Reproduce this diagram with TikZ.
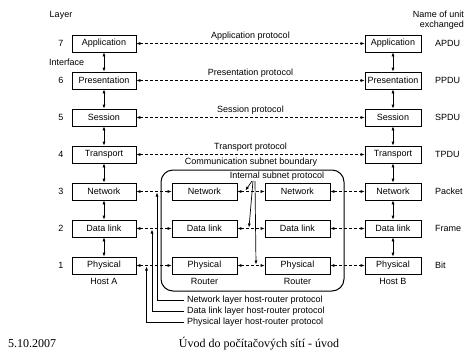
\documentclass[tikz,border=0pt]{standalone}
\usepackage{fontspec}
\setmainfont{Liberation Sans}
\newfontfamily\footfont{Liberation Serif}
\usetikzlibrary{arrows.meta}
\begin{document}
\begin{tikzpicture}[x=1pt,y=-1pt,
  lay/.style={draw, line width=0.7pt, minimum height=17pt, inner sep=0pt, font=\fontsize{9}{10.5}\selectfont},
  hb/.style={lay, minimum width=64pt},
  rb/.style={lay, minimum width=65pt},
  bb/.style={lay, minimum width=56pt},
  txt/.style={font=\fontsize{9}{10.5}\selectfont, inner sep=0pt},
  tip/.tip={Latex[length=4pt,width=3pt]},
  proto/.style={dash pattern=on 3pt off 2pt, line width=0.6pt, tip-tip},
  iface/.style={line width=0.7pt, tip-tip},
  pointer/.style={line width=0.7pt, -tip},
]
\useasboundingbox (0,0) rectangle (475,354);

% header labels
\node[txt] (layerhd) at (61,15) {Layer};
\node[txt, anchor=west] (ifacehd) at (49,62) {Interface};
\node[txt, align=right, anchor=east] (unithd) at (464,20) {Name of unit\\exchanged};

% Host A
\node[hb] (a7) at (104,43.5) {Application};
\node[hb] (a6) at (104,80.5) {Presentation};
\node[hb] (a5) at (104,117.5) {Session};
\node[hb] (a4) at (104,154.5) {Transport};
\node[hb] (a3) at (104,191.5) {Network};
\node[hb] (a2) at (104,228.5) {Data link};
\node[hb] (a1) at (104,265.5) {Physical};

% Host B
\node[bb] (b7) at (393,43.5) {Application};
\node[bb] (b6) at (393,80.5) {Presentation};
\node[bb] (b5) at (393,117.5) {Session};
\node[bb] (b4) at (393,154.5) {Transport};
\node[bb] (b3) at (393,191.5) {Network};
\node[bb] (b2) at (393,228.5) {Data link};
\node[bb] (b1) at (393,265.5) {Physical};

% Routers
\node[rb] (r3) at (204.5,191.5) {Network};
\node[rb] (r2) at (204.5,228.5) {Data link};
\node[rb] (r1) at (204.5,265.5) {Physical};
\node[rb] (s3) at (297.5,191.5) {Network};
\node[rb] (s2) at (297.5,228.5) {Data link};
\node[rb] (s1) at (297.5,265.5) {Physical};

% layer numbers
\foreach \n/\y in {7/43.5,6/80.5,5/117.5,4/154.5,3/191.5,2/228.5,1/265.5}
  \node[txt] (num\n) at (61,\y) {\n};

% unit names
\node[txt, anchor=west] (u7) at (435,43.5) {APDU};
\node[txt, anchor=west] (u6) at (435,80.5) {PPDU};
\node[txt, anchor=west] (u5) at (435,117.5) {SPDU};
\node[txt, anchor=west] (u4) at (435,154.5) {TPDU};
\node[txt, anchor=west] (u3) at (435,191.5) {Packet};
\node[txt, anchor=west] (u2) at (435,228.5) {Frame};
\node[txt, anchor=west] (u1) at (435,265.5) {Bit};

% host / router names
\node[txt] (hosta) at (104,281) {Host A};
\node[txt] (hostb) at (393,281) {Host B};
\node[txt] (rtr1) at (204.5,281) {Router};
\node[txt] (rtr2) at (297.5,281) {Router};

% subnet boundary
\draw[line width=1pt, rounded corners=12pt] (161,170) rectangle (344,291);
\node[txt] (cslab) at (251,162) {Communication subnet boundary};
\node[txt] (islab) at (277,176.5) {Internal subnet protocol};

% interfaces
\foreach \i/\j in {7/6,6/5,5/4,4/3,3/2,2/1}{
  \draw[iface] (a\i) -- (a\j);
  \draw[iface] (b\i) -- (b\j);
}

% peer protocols
\draw[proto] (a7) -- node[txt, above=3pt] (p7) {Application protocol} (b7);
\draw[proto] (a6) -- node[txt, above=3pt] (p6) {Presentation protocol} (b6);
\draw[proto] (a5) -- node[txt, above=3pt] (p5) {Session protocol} (b5);
\draw[proto] (a4) -- node[txt, above=3pt] (p4) {Transport protocol} (b4);
\foreach \k in {3,2,1}{
  \draw[proto] (a\k) -- (r\k);
  \draw[proto] (r\k) -- (s\k);
  \draw[proto] (s\k) -- (b\k);
}

% internal subnet protocol pointers
\coordinate (io1) at (252,181);
\coordinate (io2) at (253,181);
\coordinate (io3) at (255,181);
\coordinate (it1) at (245.5,190.5);
\coordinate (it2) at (249,227.5);
\coordinate (it3) at (256,264.5);
\draw[pointer] (io1) -- (it1);
\draw[pointer] (io2) -- (it2);
\draw[pointer] (io3) -- (it3);

% host-router protocol labels
\node[txt, anchor=west] (hrn) at (187,300) {Network layer host-router protocol};
\node[txt, anchor=west] (hrd) at (187,311) {Data link layer host-router protocol};
\node[txt, anchor=west] (hrp) at (187,322) {Physical layer host-router protocol};
\coordinate (tn) at (157,192.5);
\coordinate (td) at (152,229.5);
\coordinate (tp) at (146.5,266.5);
\draw[pointer] ([xshift=-3pt]hrn.west) -| (tn);
\draw[pointer] ([xshift=-3pt]hrd.west) -| (td);
\draw[pointer] ([xshift=-3pt]hrp.west) -| (tp);

% footer
\node[anchor=west, inner sep=0pt, font=\footfont\fontsize{12}{14}\selectfont] (date) at (8,344) {5.10.2007};
\node[inner sep=0pt, font=\footfont\fontsize{12}{14}\selectfont] (title) at (259,344) {Úvod do počítačových sítí - úvod};
\end{tikzpicture}
\end{document}
